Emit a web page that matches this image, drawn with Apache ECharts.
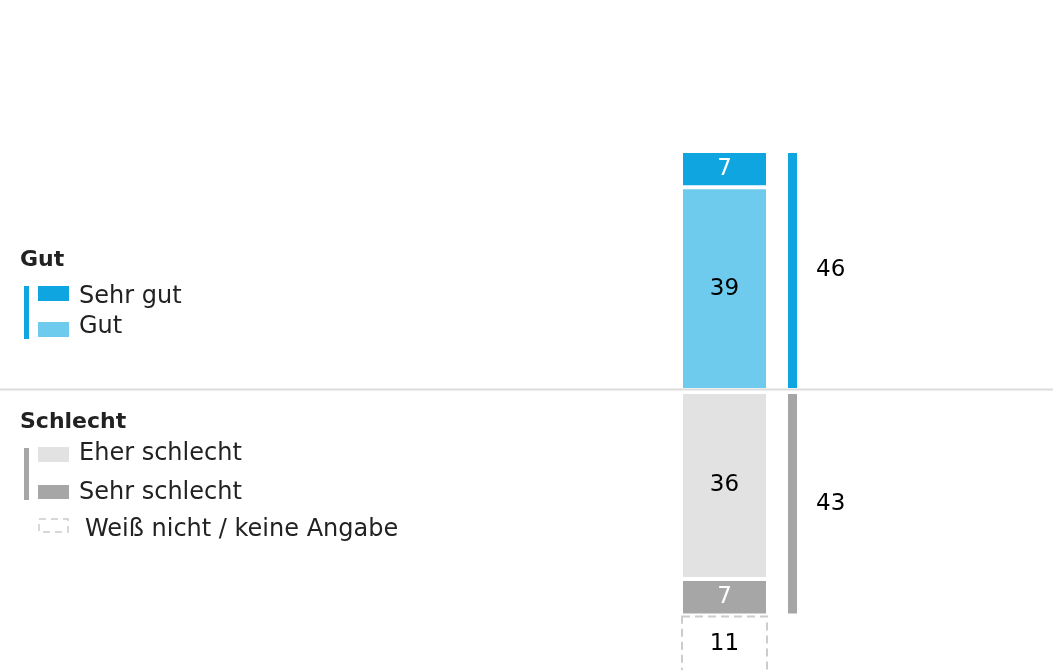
<!DOCTYPE html>
<html>
<head>
<meta charset="utf-8">
<script src="https://cdn.jsdelivr.net/npm/echarts@6/dist/echarts.min.js"></script>
<style>
html, body { margin: 0; padding: 0; background: #fff; }
#chart { width: 1053px; height: 670px; }
</style>
</head>
<body>
<div id="chart"></div>
<script>
// data
var groupTitles = ['Gut', 'Schlecht'];
var upNames = ['Gut', 'Sehr gut'];          // stacked upward from the baseline
var upValues = [39, 7];
var downNames = ['Eher schlecht', 'Sehr schlecht'];  // stacked downward
var downValues = [36, 7];
var naName = 'Weiß nicht / keine Angabe';
var naValue = [11];
var totalNames = ['Gut gesamt', 'Schlecht gesamt'];
var totalValues = [46, 43];

var upColors = ['#6ecbee', '#0fa5e0'];
var downColors = ['#e2e2e2', '#a6a6a6'];
var font = 'DejaVu Sans';

var chart = echarts.init(document.getElementById('chart'));

// same scale above and below the baseline; lower part runs off the canvas
var upHeight = 239;
var downHeight = 300;
var pxPerUnit = upHeight / totalValues[0];
var downMax = downHeight / pxPerUnit;

function numLabel(color, pos) {
    return {
        show: true,
        position: pos || 'inside',
        distance: 17,
        color: color,
        fontSize: 23,
        fontFamily: font
    };
}

var series = [];
upValues.forEach(function (v, i) {
    series.push({
        name: upNames[i],
        type: 'bar',
        stack: 'up',
        xAxisIndex: 0,
        yAxisIndex: 0,
        barWidth: '100%',
        data: [v],
        itemStyle: { color: upColors[i], borderColor: '#fff', borderWidth: 2 },
        label: numLabel(i === 1 ? '#fff' : '#000')
    });
});
downValues.forEach(function (v, i) {
    series.push({
        name: downNames[i],
        type: 'bar',
        stack: 'down',
        xAxisIndex: 1,
        yAxisIndex: 1,
        barWidth: '100%',
        data: [v],
        itemStyle: { color: downColors[i], borderColor: '#fff', borderWidth: 2 },
        label: numLabel(i === 1 ? '#fff' : '#000')
    });
});
series.push({
    name: naName,
    type: 'bar',
    stack: 'down',
    xAxisIndex: 1,
    yAxisIndex: 1,
    barWidth: '100%',
    data: naValue,
    itemStyle: { color: '#fff', borderColor: '#cccccc', borderWidth: 2, borderType: [8, 5] },
    label: numLabel('#000')
});
// total bars at the side
series.push({
    name: totalNames[0],
    type: 'bar',
    xAxisIndex: 2,
    yAxisIndex: 2,
    barWidth: '100%',
    data: [totalValues[0]],
    itemStyle: { color: upColors[1], borderColor: '#fff', borderWidth: 2 },
    label: numLabel('#000', 'right')
});
series.push({
    name: totalNames[1],
    type: 'bar',
    xAxisIndex: 3,
    yAxisIndex: 3,
    barWidth: '100%',
    data: [totalValues[1]],
    itemStyle: { color: downColors[1], borderColor: '#fff', borderWidth: 2 },
    label: numLabel('#000', 'right')
});

var grids = [
    { left: 681, top: 390 - upHeight, width: 87, height: upHeight },
    { left: 681, top: 392, width: 87, height: downHeight },
    { left: 786, top: 390 - upHeight, width: 13, height: upHeight },
    { left: 786, top: 392, width: 13, height: downHeight }
].map(function (g) {
    g.outerBoundsMode = 'none';
    g.containLabel = false;
    return g;
});

var xAxes = grids.map(function (g, i) {
    return { type: 'category', gridIndex: i, data: [''], show: false };
});
var yAxes = [
    { type: 'value', gridIndex: 0, min: 0, max: totalValues[0], show: false },
    { type: 'value', gridIndex: 1, min: 0, max: downMax, inverse: true, show: false },
    { type: 'value', gridIndex: 2, min: 0, max: totalValues[0], show: false },
    { type: 'value', gridIndex: 3, min: 0, max: downMax, inverse: true, show: false }
];

function txt(x, y, s, bold) {
    return {
        type: 'text', x: x, y: y,
        style: {
            text: s, fill: '#222', fontSize: bold ? 22 : 24,
            fontWeight: bold ? 'bold' : 'normal', fontFamily: font,
            verticalAlign: 'middle'
        }
    };
}
function box(x, y, w, h, c) {
    return { type: 'rect', shape: { x: x, y: y, width: w, height: h }, style: { fill: c } };
}

var graphics = [
    // baseline
    { type: 'line', z: 10, shape: { x1: 0, y1: 389.5, x2: 1053, y2: 389.5 }, style: { stroke: '#dcdcdc', lineWidth: 2 } },
    // legend: Gut
    txt(20, 260, groupTitles[0], true),
    box(24, 286, 5, 53, upColors[1]),
    box(38, 286, 31, 15, upColors[1]),
    txt(79, 297, upNames[1]),
    box(38, 322, 31, 15, upColors[0]),
    txt(79, 327, upNames[0]),
    // legend: Schlecht
    txt(20, 422, groupTitles[1], true),
    box(24, 448, 5, 52, downColors[1]),
    box(38, 447, 31, 15, downColors[0]),
    txt(79, 454, downNames[0]),
    box(38, 485, 31, 14, downColors[1]),
    txt(79, 493, downNames[1]),
    {
        type: 'rect', shape: { x: 39, y: 519, width: 29, height: 13 },
        style: { fill: '#fff', stroke: '#cccccc', lineWidth: 1.5, lineDash: [7, 5] }
    },
    txt(85, 530, naName)
];

var option = {
    animation: false,
    backgroundColor: '#fff',
    grid: grids,
    xAxis: xAxes,
    yAxis: yAxes,
    series: series,
    graphic: graphics
};
chart.setOption(option);
</script>
</body>
</html>
